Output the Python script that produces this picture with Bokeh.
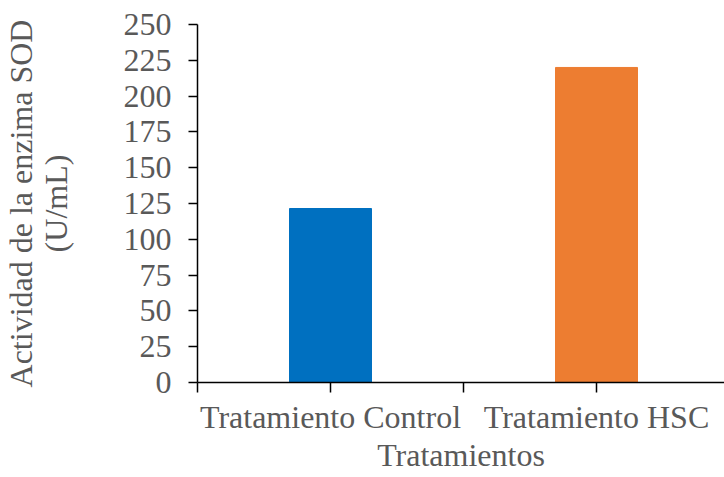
from bokeh.plotting import figure
from bokeh.models import Range1d, FixedTicker, ColumnDataSource
from bokeh.embed import file_html
from bokeh.resources import INLINE

categories = ["Tratamiento Control", "Tratamiento HSC"]
values = [121.5, 220.0]
colors = ["#0070C0", "#ED7D31"]
y_ticks = [0, 25, 50, 75, 100, 125, 150, 175, 200, 225, 250]
y_title = "Actividad de la enzima SOD\n(U/mL)"
x_title = "Tratamientos"

# layout (pixels)
W, H = 724, 477
LEFT, TOP, BOTTOM = 197, 24, 95
CAT_PX = 266
frame_w = W - LEFT
YMAX = 250

xs = [i + 0.5 for i in range(len(categories))]
src = ColumnDataSource(dict(x=xs, top=values, color=colors))

p = figure(width=W, height=H, output_backend="svg", toolbar_location=None,
           x_range=Range1d(0, frame_w / CAT_PX), y_range=Range1d(0, YMAX),
           min_border_left=LEFT, min_border_top=TOP, min_border_bottom=BOTTOM,
           min_border_right=0)
p.vbar(x="x", top="top", width=82 / CAT_PX, color="color", source=src)

FONT = "Liberation Serif"
GRAY = "#595959"
FS = "32px"
p.xgrid.visible = False
p.ygrid.visible = False
p.outline_line_color = None

for ax in (p.xaxis[0], p.yaxis[0]):
    ax.axis_line_color = "black"
    ax.axis_line_width = 1.5
    ax.major_tick_line_color = "black"
    ax.major_tick_line_width = 1.5
    ax.major_tick_in = 0
    ax.minor_tick_line_color = None
    ax.major_label_text_font = FONT
    ax.major_label_text_font_size = FS
    ax.major_label_text_color = GRAY
    ax.axis_label_text_font = FONT
    ax.axis_label_text_font_size = FS
    ax.axis_label_text_color = GRAY
    ax.axis_label_text_font_style = "normal"

yax = p.yaxis[0]
yax.ticker = FixedTicker(ticks=y_ticks)
yax.major_tick_out = 9
yax.major_label_standoff = 17
yax.axis_label = y_title
yax.axis_label_text_line_height = 0.95
yax.axis_label_standoff = 47

xax = p.xaxis[0]
tick_pos = [i * 0.5 for i in range(2 * len(categories))]
xax.ticker = FixedTicker(ticks=tick_pos)
overrides = {t: "" for t in tick_pos}
for x, c in zip(xs, categories):
    overrides[x] = c
xax.major_label_overrides = overrides
xax.major_tick_out = 10
xax.major_label_standoff = 6
xax.axis_label = x_title
xax.axis_label_standoff = -1

open("out.html", "w").write(file_html(p, INLINE))
